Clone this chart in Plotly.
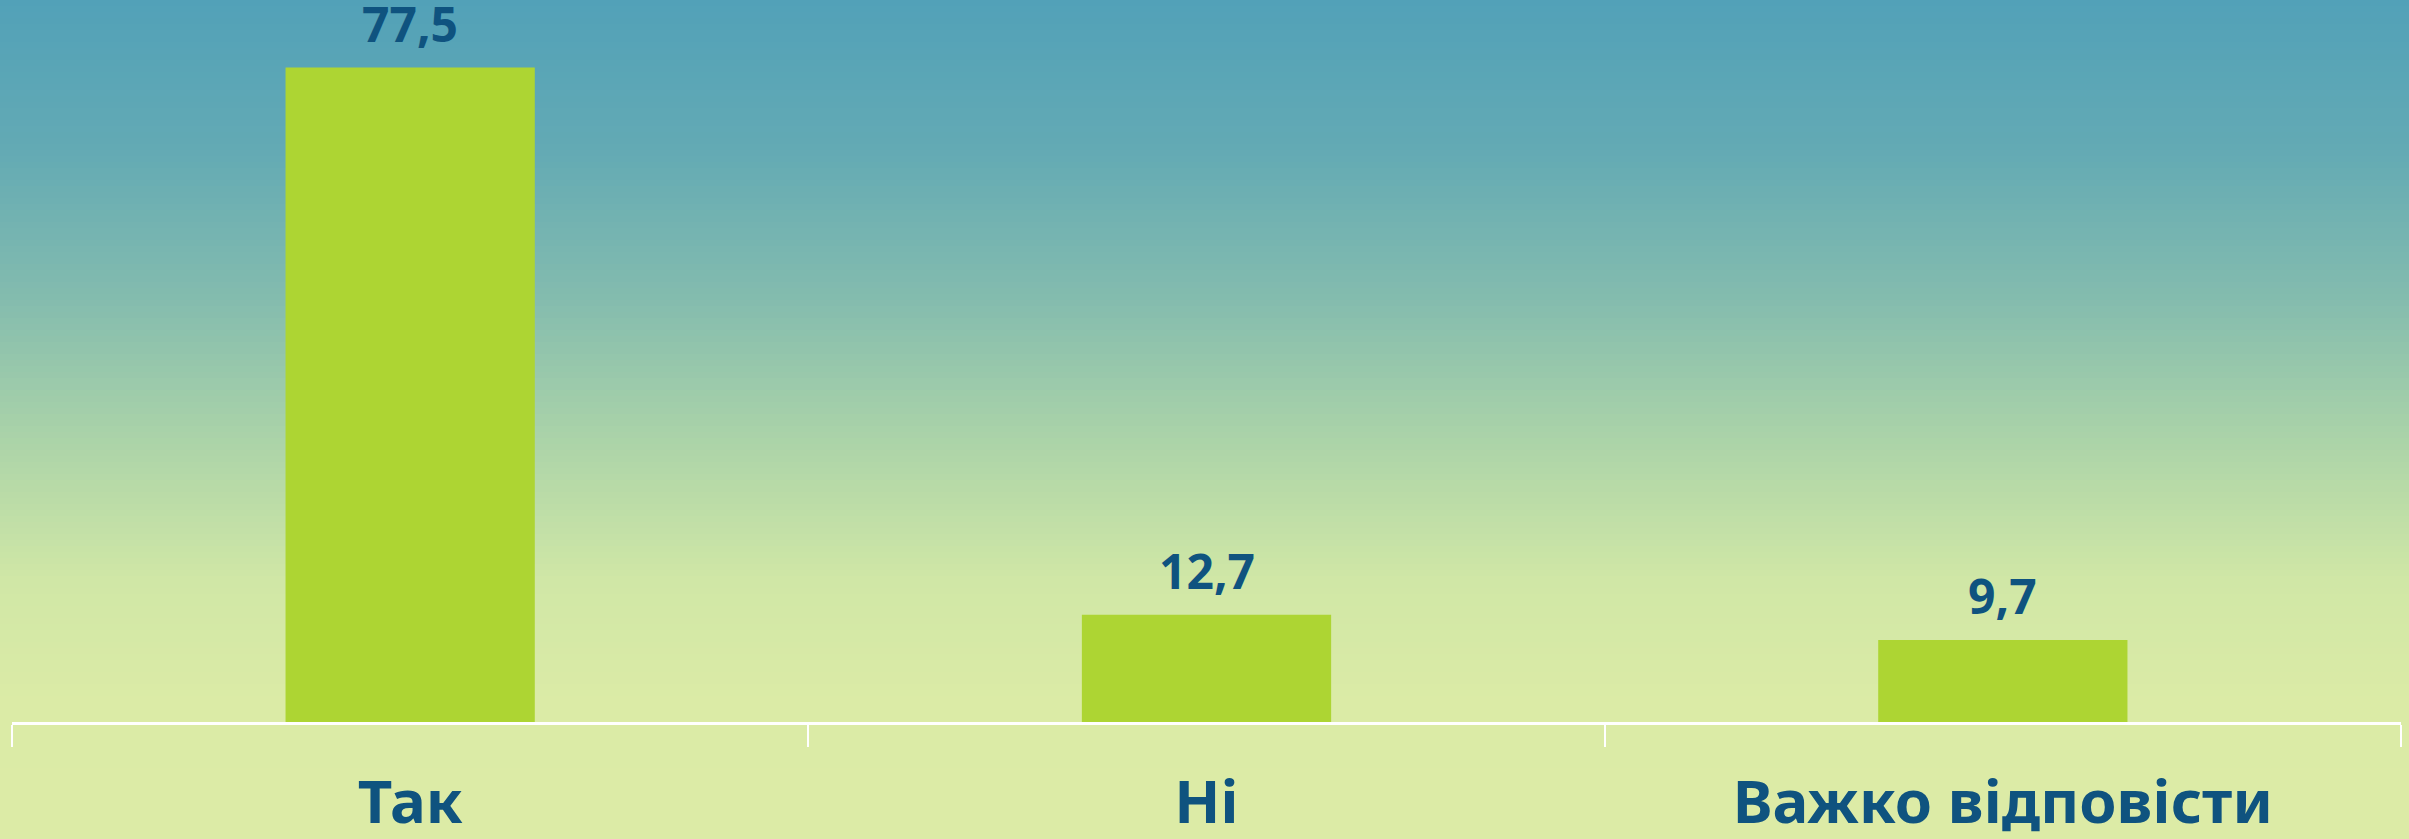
import plotly.graph_objects as go

# data
categories = ["Так", "Ні", "Важко відповісти"]
values = [77.5, 12.7, 9.7]

# background gradient stops (pixel row from top, colour)
grad_rows = [0, 150, 300, 450, 580, 700, 839]
grad_cols = ["#52A1B8", "#63AAB4", "#84BCAE", "#AED5A8", "#D0E7A6", "#DBEBA6", "#DCEBA6"]

W, H = 2409, 839
axis_px = 722          # y pixel of the category axis
text_col = "#0F537F"
font_name = "Noto Sans"


def hex2rgb(h):
    h = h.lstrip("#")
    return [int(h[i:i + 2], 16) for i in (0, 2, 4)]


def colour_at(py):
    for i in range(len(grad_rows) - 1):
        if grad_rows[i] <= py <= grad_rows[i + 1]:
            t = (py - grad_rows[i]) / (grad_rows[i + 1] - grad_rows[i])
            a, b = hex2rgb(grad_cols[i]), hex2rgb(grad_cols[i + 1])
            c = [round(a[k] + (b[k] - a[k]) * t) for k in range(3)]
            return "rgb(%d,%d,%d)" % tuple(c)
    return grad_cols[-1]


shapes = []
step = 6
for py in range(0, H, step):
    shapes.append(dict(
        type="rect", xref="paper", yref="paper", layer="below",
        x0=-0.02, x1=1.02,
        y0=(axis_px - py - step - 1) / axis_px, y1=(axis_px - py) / axis_px,
        fillcolor=colour_at(py + step / 2), line=dict(width=0),
    ))

bars = go.Bar(x=categories, y=values, marker=dict(color="#ADD533", line=dict(width=0)),
              hoverinfo="skip")

labels = []
for c, v in zip(categories, values):
    labels.append(dict(x=c, y=v, text=("%.1f" % v).replace(".", ","), showarrow=False,
                       yanchor="bottom", yshift=10,
                       font=dict(family=font_name, size=48, color=text_col, weight="bold")))

fig = go.Figure(data=[bars])
fig.update_layout(
    width=W, height=H,
    margin=dict(l=12, r=8, t=0, b=H - axis_px, autoexpand=False),
    paper_bgcolor="#DCEBA6", plot_bgcolor="rgba(0,0,0,0)",
    bargap=0.687, showlegend=False,
    shapes=shapes, annotations=labels,
)
fig.update_xaxes(
    automargin=False,
    showline=True, linecolor="white", linewidth=3,
    ticks="outside", tickson="boundaries", ticklen=22, tickcolor="white", tickwidth=2,
    tickfont=dict(family=font_name, size=60, color=text_col, weight="bold"),
    ticklabelstandoff=26, showgrid=False, zeroline=False,
)
fig.update_yaxes(range=[0, 85.5], visible=False, showgrid=False, automargin=False)

fig.write_html("out.html", config={"displayModeBar": False},
               post_script="document.body.style.margin='0';document.body.style.overflow='hidden';")
